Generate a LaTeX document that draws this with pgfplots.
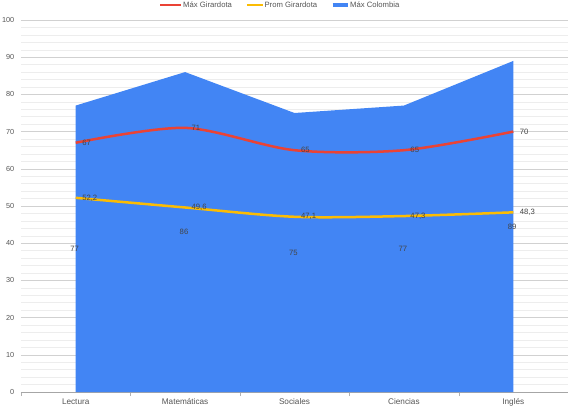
\documentclass[border=0pt]{standalone}
\usepackage{fontspec}
\setmainfont{Liberation Sans}
\usepackage{pgfplots}
\pgfplotsset{compat=1.18}
\definecolor{gblue}{HTML}{4285F4}
\definecolor{gred}{HTML}{EA4335}
\definecolor{gyellow}{HTML}{FBBC04}
\definecolor{tickgray}{HTML}{555555}
\definecolor{labgray}{HTML}{444444}
\begin{document}
\begin{tikzpicture}
\useasboundingbox (-21pt,-15pt) rectangle (556pt,392pt);
\begin{axis}[
  scale only axis,
  width=547pt, height=372pt,
  xmin=-0.5, xmax=4.5,
  ymin=0, ymax=100,
  xtick={0,1,2,3,4},
  xticklabels={Lectura,Matemáticas,Sociales,Ciencias,Inglés},
  major x tick style={draw=none},
  minor xtick={-0.5,0.5,1.5,2.5,3.5},
  minor x tick style={draw=gray!60},
  minor tick length=4pt,
  tick align=outside,
  ytick={0,10,...,100},
  minor ytick={2,4,...,98},
  ymajorgrids, yminorgrids,
  major grid style={draw=black!18, line width=0.5pt},
  minor grid style={draw=black!7, line width=0.5pt},
  major y tick style={draw=none},
  minor y tick style={draw=none},
  axis line style={draw=none},
  axis x line*=bottom,
  x axis line style={draw=gray!70, line width=0.5pt},
  axis y line*=left,
  y axis line style={draw=none},
  tick label style={font=\fontsize{7.3}{9}\selectfont, text=tickgray},
  xticklabel style={font=\fontsize{8.2}{9}\selectfont, yshift=1pt},
  /pgf/number format/assume math mode=true,
  yticklabel style={xshift=1pt},
  legend style={at={(axis description cs:0.5,1)}, anchor=center,
    xshift=-15pt, yshift=15pt,
    draw=none, fill=none, legend columns=-1,
    font=\fontsize{7.7}{9}\selectfont, text=tickgray,
    nodes={text height=6pt, text depth=1pt, inner sep=0.5pt},
    /tikz/every even column/.append style={column sep=13pt}},
  legend cell align=left,
  clip=false,
]
\addlegendimage{legend image code/.code={\draw[line width=2.6pt, gred] (0pt,0pt) -- (21pt,0pt);}}
\addlegendentry{Máx Girardota}
\addlegendimage{legend image code/.code={\draw[line width=2.6pt, gyellow] (0pt,0pt) -- (16pt,0pt);}}
\addlegendentry{Prom Girardota}
\addlegendimage{legend image code/.code={\draw[line width=4pt, gblue] (0pt,0pt) -- (15pt,0pt);}}
\addlegendentry{Máx Colombia}

\addplot[fill=gblue, draw=none, forget plot] coordinates {
  (0,0) (0,77) (1,86) (2,75) (3,77) (4,89) (4,0)
} \closedcycle;

\addplot[gred, line width=2.5pt, smooth, tension=0.5, forget plot,
  nodes near coords, point meta=explicit symbolic,
  every node near coord/.append style={anchor=west, xshift=2pt,
    font=\fontsize{7.7}{9}\selectfont, text=labgray}]
  coordinates {
  (0,67) [67] (1,71) [71] (2,65) [65] (3,65) [65] (4,70) [70]
};

\addplot[gyellow, line width=2.5pt, smooth, tension=0.5, forget plot,
  nodes near coords, point meta=explicit symbolic,
  every node near coord/.append style={anchor=west, xshift=2pt,
    font=\fontsize{7.7}{9}\selectfont, text=labgray}]
  coordinates {
  (0,52.2) [52,2] (1,49.6) [49,6] (2,47.1) [47,1] (3,47.3) [47,3] (4,48.3) [48,3]
};

\addplot[draw=none, mark=none, forget plot,
  nodes near coords, point meta=explicit symbolic,
  every node near coord/.append style={anchor=center,
    font=\fontsize{7.7}{9}\selectfont, text=labgray}]
  coordinates {
  (-0.01,38.5) [77] (0.99,43) [86] (1.99,37.5) [75] (2.99,38.5) [77] (3.99,44.5) [89]
};
\end{axis}
\end{tikzpicture}
\end{document}
